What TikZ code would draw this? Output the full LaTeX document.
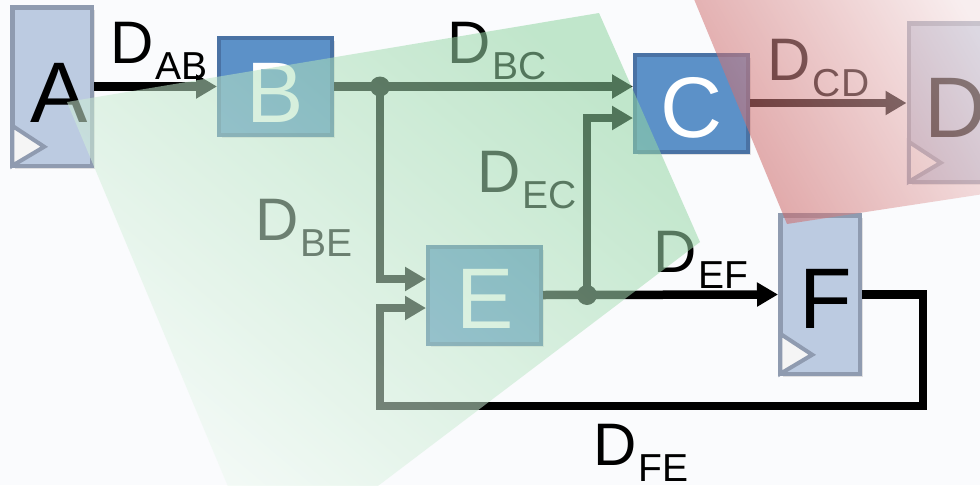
\documentclass[tikz,border=0pt]{standalone}
\usepackage{fontspec}
\setmainfont{Liberation Sans}
\usetikzlibrary{arrows.meta,shadows,calc}
\definecolor{bgc}{HTML}{FAFBFD}
\definecolor{fffill}{HTML}{BCCBE1}
\definecolor{ffdraw}{HTML}{8F9BB0}
\definecolor{cbfill}{HTML}{5C91C8}
\definecolor{cbdraw}{HTML}{4A72A4}
\definecolor{clkfill}{HTML}{F5F5F5}
\definecolor{gsat}{RGB}{145,213,162}
\definecolor{gfade}{RGB}{240,250,243}
\definecolor{rsat}{RGB}{200,88,88}
\definecolor{rfade}{RGB}{248,228,228}
\newcommand\Dlab[1]{D\kern2pt\raisebox{-16pt}{\fontsize{39}{39}\selectfont #1}}
\begin{document}
\begin{tikzpicture}[x=1pt,y=-1pt,
  ffbox/.style={draw=ffdraw, fill=fffill, line width=4.5pt, minimum width=79.5pt, minimum height=158.5pt, inner sep=0pt,
    drop shadow={opacity=0.22, shadow xshift=3pt, shadow yshift=-3pt}},
  cbbox/.style={draw=cbdraw, fill=cbfill, line width=4pt, minimum width=113pt, minimum height=97pt, inner sep=0pt,
    drop shadow={opacity=0.22, shadow xshift=3pt, shadow yshift=-3pt}},
  clk/.style={draw=ffdraw, fill=clkfill, line width=4pt, line join=miter},
  wire/.style={line width=8.5pt, draw=black},
  arrowed/.style={-{Triangle[length=21pt,width=23pt]}},
  jdot/.style={circle, fill=black, minimum size=20pt, inner sep=0pt},
  bigtxt/.style={font=\fontsize{86}{86}\selectfont, inner sep=0pt, anchor=base},
  lbl/.style={inner sep=0pt, anchor=base west, font=\fontsize{60}{60}\selectfont},
]
\useasboundingbox (0,0) rectangle (980,485);
\fill[bgc] (0,0) rectangle (980,485);
\clip (0,0) rectangle (980,485);

% boxes
\node[ffbox] (A) at (52,86.5) {};
\node[cbbox] (B) at (275.5,86.5) {};
\node[cbbox] (C) at (691.5,103) {};
\node[cbbox] (E) at (484.5,295) {};
\node[ffbox] (F) at (820,294.5) {};
\node[ffbox] (D) at (948.5,102.5) {};

% clock triangles
\draw[clk] ($(A.south west)+(2.25,-2.25)$) -- ++(0,-40) -- ++(32,21) -- cycle;
\draw[clk] ($(F.south west)+(2.25,-2.25)$) -- ++(0,-40) -- ++(32,21) -- cycle;
\draw[clk] ($(D.south west)+(2.25,-2.25)$) -- ++(0,-40) -- ++(32,21) -- cycle;

% wires
\coordinate (j1) at (380,86.5);
\coordinate (j2) at (587,295);
\coordinate (fbR) at (923,406);
\coordinate (fbL) at (380,406);
\draw[wire,arrowed] (A.east) -- (B.west);
\draw[wire,arrowed] (B.east) -- (B.east -| C.west);
\draw[wire,arrowed] (j1) |- ([yshift=16pt]E.west);
\draw[wire,arrowed] (E.east) -- (F.west);
\draw[wire,arrowed] (j2) |- ([yshift=-15pt]C.west);
\draw[wire,arrowed] (C.east) -- (C.east -| D.west);
\draw[wire,arrowed] (F.east) -| (fbR) -- (fbL) |- ([yshift=-13pt]E.west);
\node[jdot] (d1) at (j1) {};
\node[jdot] (d2) at (j2) {};

% big letters
\node[bigtxt] (tA) at (59,122) {A};
\node[bigtxt,text=white] (tB) at (275,122) {B};
\node[bigtxt,text=white] (tC) at (692,137) {C};
\node[bigtxt,text=white] (tE) at (485,328) {E};
\node[bigtxt] (tF) at (826,328) {F};
\node[bigtxt] (tD) at (956,137) {D};

% labels
\node[lbl] (lAB) at (110.4,63) {\Dlab{AB}};
\node[lbl] (lBC) at (447.4,63) {\Dlab{BC}};
\node[lbl] (lCD) at (767.4,80) {\Dlab{CD}};
\node[lbl] (lEC) at (477.4,192) {\Dlab{EC}};
\node[lbl] (lBE) at (255.4,240) {\Dlab{BE}};
\node[lbl] (lEF) at (653.4,272) {\Dlab{EF}};
\node[lbl] (lFE) at (593.4,465) {\Dlab{FE}};

% overlays
\shade[top color=gsat, bottom color=gfade, shading angle=-40, opacity=0.55]
  (67,102) -- (599,13) -- (700,242) -- (333,520) -- (242,520) -- cycle;
\shade[top color=rfade, bottom color=rsat, shading angle=-60, opacity=0.55]
  (684,-25) -- (787,224) -- (1010,190) -- (1010,-25) -- cycle;
\end{tikzpicture}
\end{document}
